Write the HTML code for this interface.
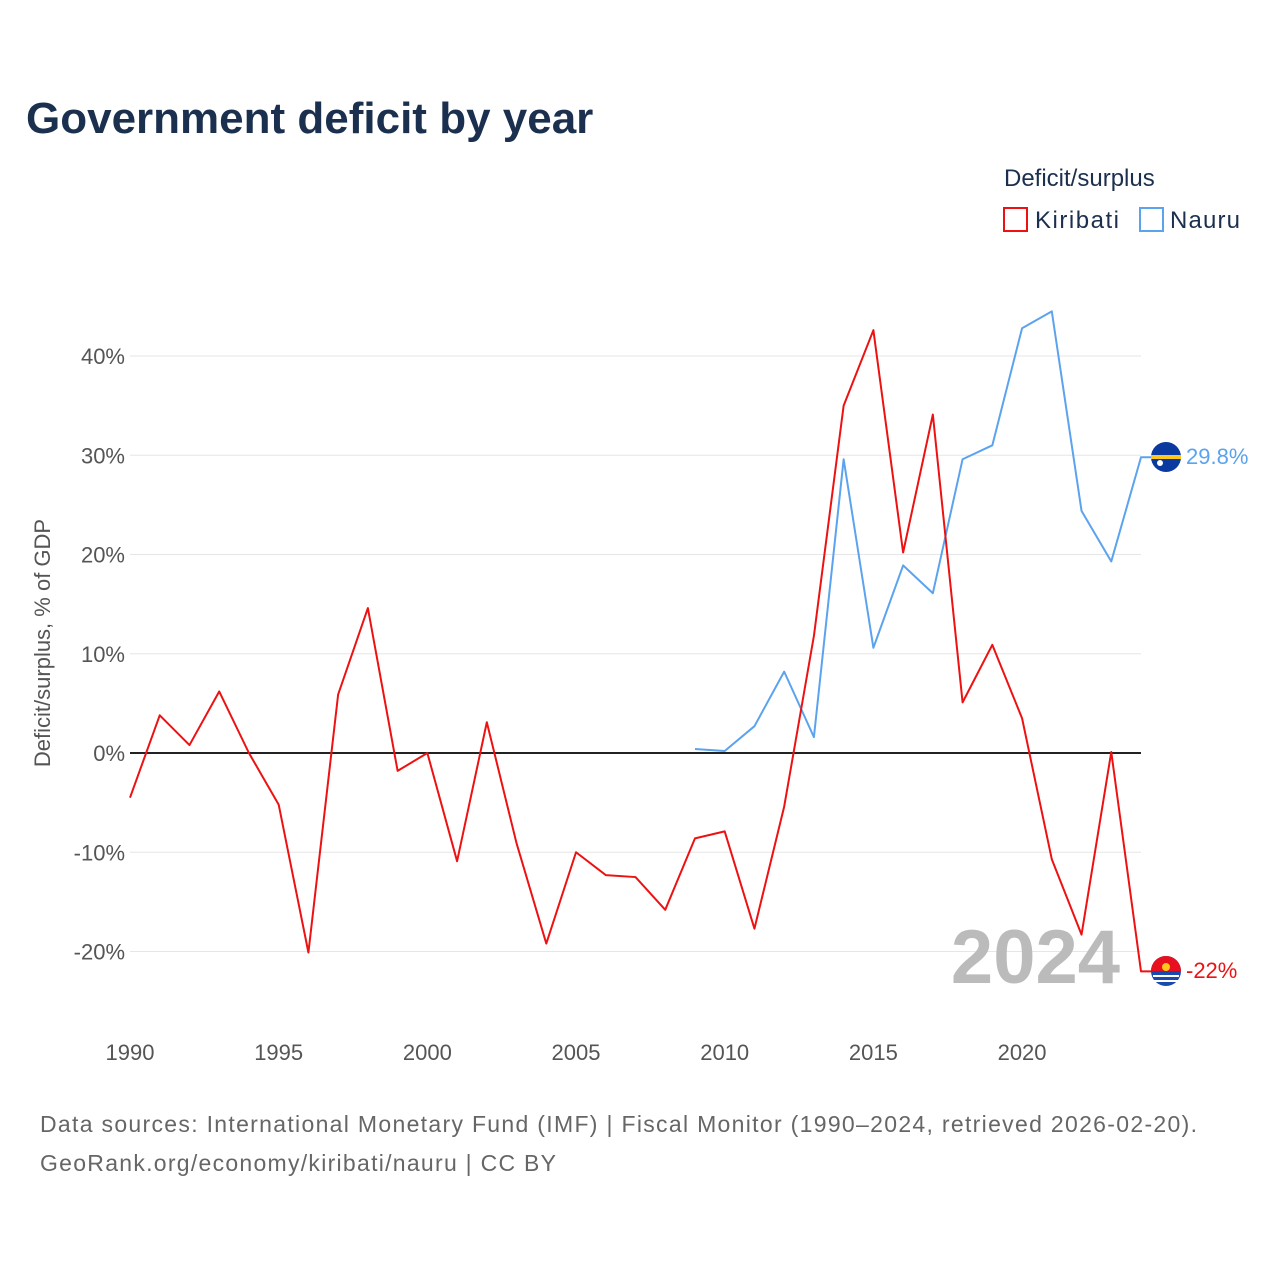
<!DOCTYPE html>
<html><head><meta charset="utf-8"><style>
body{margin:0;background:#fff;font-family:"Liberation Sans",sans-serif}
</style></head><body>
<svg width="1280" height="1280" xmlns="http://www.w3.org/2000/svg" font-family="Liberation Sans, sans-serif">
<rect width="1280" height="1280" fill="#fff"/>
<text x="26" y="133" font-size="44" font-weight="bold" fill="#1b2f4e">Government deficit by year</text>
<text x="1004" y="186" font-size="24" fill="#1b2f4e">Deficit/surplus</text>
<g><rect x="1004" y="208" width="23" height="23" fill="none" stroke="#ee1111" stroke-width="2"/><text x="1035" y="228" font-size="24" fill="#1b2f4e" textLength="84">Kiribati</text></g>
<g><rect x="1140" y="208" width="23" height="23" fill="none" stroke="#5ba3ee" stroke-width="2"/><text x="1170" y="228" font-size="24" fill="#1b2f4e" textLength="70">Nauru</text></g>
<g id="grid"></g><g id="yt"></g><g id="xt"></g>
<line x1="130" x2="1141" y1="753" y2="753" stroke="#222" stroke-width="2"/>
<text transform="translate(50,643) rotate(-90)" text-anchor="middle" font-size="22" fill="#555">Deficit/surplus, % of GDP</text>
<text x="1120" y="983" text-anchor="end" font-size="76" font-weight="bold" fill="#bbb">2024</text>
<g id="series"></g>
<g><circle cx="1166" cy="457" r="15" fill="#0a3aa0"/><rect x="1151" y="455" width="30" height="4" fill="#ffc61e"/><circle cx="1160" cy="463" r="3" fill="#fff"/></g>
<g><circle cx="1166" cy="971" r="15" fill="#1a4ab0"/><path d="M1151 971 A15 15 0 0 1 1181 971 Z" fill="#e8101e"/><circle cx="1166" cy="967" r="4" fill="#ffc61e"/><path d="M1153 976 h26 M1153 981 h26" stroke="#fff" stroke-width="2"/></g>
<text x="1186" y="464" font-size="22" fill="#5ba3ee">29.8%</text>
<text x="1186" y="978" font-size="22" fill="#ee1111">-22%</text>
<text x="40" y="1132" font-size="23" fill="#666" textLength="1157">Data sources: International Monetary Fund (IMF) | Fiscal Monitor (1990–2024, retrieved 2026-02-20).</text>
<text x="40" y="1171" font-size="23" fill="#666" textLength="516">GeoRank.org/economy/kiribati/nauru | CC BY</text>
</svg>
<script>
const kiribatiYears=[1990,1991,1992,1993,1994,1995,1996,1997,1998,1999,2000,2001,2002,2003,2004,2005,2006,2007,2008,2009,2010,2011,2012,2013,2014,2015,2016,2017,2018,2019,2020,2021,2022,2023,2024];
const kiribatiValues=[-4.5,3.8,0.8,6.2,0,-5.2,-20.1,5.9,14.6,-1.8,0,-10.9,3.1,-9.1,-19.2,-10,-12.3,-12.5,-15.8,-8.6,-7.9,-17.7,-5.4,11.8,35,42.6,20.2,34.1,5.1,10.9,3.5,-10.7,-18.3,0.1,-22];
const nauruYears=[2009,2010,2011,2012,2013,2014,2015,2016,2017,2018,2019,2020,2021,2022,2023,2024];
const nauruValues=[0.4,0.2,2.7,8.2,1.6,29.6,10.6,18.9,16.1,29.6,31,42.8,44.5,24.4,19.3,29.8];
const yTicks=[-20,-10,0,10,20,30,40];
const xTicks=[1990,1995,2000,2005,2010,2015,2020];
const NS="http://www.w3.org/2000/svg";
const X=y=>130+(y-1990)*(1141-130)/34;
const Y=v=>753-v*9.925;
function mk(t,a,p){const e=document.createElementNS(NS,t);for(const k in a)e.setAttribute(k,a[k]);document.getElementById(p).appendChild(e);return e;}
yTicks.forEach(v=>{
 if(v!==0){const l=mk('line',{x1:130,x2:1141,y1:Y(v),y2:Y(v),stroke:'#e6e6e6','stroke-width':1},'grid');
 
 }
 const t=mk('text',{x:125,y:Y(v)+8,'text-anchor':'end','font-size':22,fill:'#555'},'yt');t.textContent=v+'%';
 
 
});
xTicks.forEach(v=>{
 const t=mk('text',{x:X(v),y:1060,'text-anchor':'middle','font-size':22,fill:'#555'},'xt');t.textContent=v;
 
 
});
function line(ys,vs,c,name){
 let d=ys.map((y,i)=>(i?'L':'M')+X(y)+' '+Y(vs[i])).join(' ');
 d+=' L1166 '+Y(vs[vs.length-1]);
 const p=mk('path',{d:d,fill:'none',stroke:c,'stroke-width':2,'stroke-linejoin':'round'},'series');
 
 
}
line(nauruYears,nauruValues,'#5ba3ee','nauru-line');
line(kiribatiYears,kiribatiValues,'#ee1111','kiribati-line');
</script>
</body></html>
